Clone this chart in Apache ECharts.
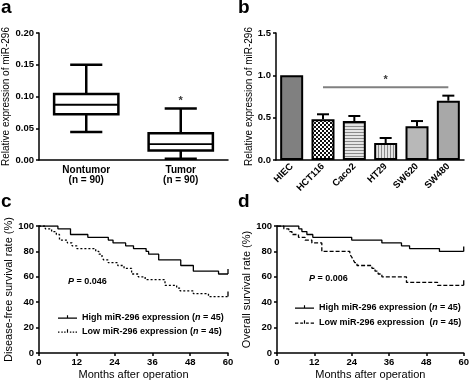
<!DOCTYPE html>
<html>
<head>
<meta charset="utf-8">
<script src="https://cdn.jsdelivr.net/npm/echarts@6/dist/echarts.min.js"></script>
<style>
  html, body { margin: 0; padding: 0; background: #fff; }
  #main { width: 472px; height: 384px; }
</style>
</head>
<body>
<div id="main"></div>
<script>
// panel a: box plot (min, q1, median, q3, max)
var boxCats = ['Nontumor\n(n = 90)', 'Tumor\n(n = 90)'];
var boxStats = [
  [0.044, 0.072, 0.087, 0.104, 0.150],
  [0.002, 0.015, 0.025, 0.042, 0.081]
];

// panel b: cell lines
var cellLines = ['HIEC', 'HCT116', 'Caco2', 'HT29', 'SW620', 'SW480'];
var cellMean = [1.0, 0.48, 0.46, 0.20, 0.40, 0.70];
var cellErr = [0, 0.06, 0.06, 0.06, 0.06, 0.06];

// panel c: disease-free survival (months, %)
var dfsHigh = [[0, 100], [6, 97.8], [10, 93.3], [15.5, 91.1], [22, 88.9], [23.5, 86.7], [27.5, 84.4], [30, 82.2],
  [34, 80], [34.8, 77.8], [38, 73.3], [45, 68.9], [49, 64.4], [57, 62.2], [60, 62.2]];
var dfsLow = [[0, 100], [2, 97.8], [4, 95.6], [5.5, 93.3], [6.5, 88.9], [9, 86.7], [10.5, 84.4], [12, 82.2],
  [18, 80], [19, 77.8], [20, 75.6], [20.5, 73.3], [22, 71.1], [25, 68.9], [27, 66.7], [29.4, 62.2], [31.5, 60],
  [33.7, 57.8], [40, 53.3], [43.7, 51.1], [44.8, 48.9], [49, 46.7], [53.8, 44.4], [60, 44.4]];

// panel d: overall survival
var osHigh = [[0, 100], [7, 97.8], [8, 95.6], [9.6, 93.3], [11.5, 91.1], [24, 88.9], [33.7, 86.7], [40, 84.4],
  [42.6, 82.2], [52.2, 80], [60, 80]];
var osLow = [[0, 100], [2.2, 97.8], [3.8, 95.6], [4.8, 93.3], [6.9, 91.1], [9, 88.9], [11.2, 86.7], [14.4, 80],
  [23.4, 77.8], [24, 75.6], [24.5, 73.3], [25, 71.1], [25.7, 68.9], [30.5, 66.7], [31.5, 64.4], [32.5, 62.2],
  [33.7, 60], [41.6, 55.6], [51.6, 53.3], [60, 53.3]];

var FONT = '"Liberation Sans", Arial, sans-serif';

// small canvas fills for the bars
function pattern(w, h, draw) {
  var c = document.createElement('canvas');
  c.width = w; c.height = h;
  draw(c.getContext('2d'));
  return { image: c, repeat: 'repeat' };
}
var fills = [
  '#808080',
  pattern(4, 4, function (g) { g.fillStyle = '#fff'; g.fillRect(0, 0, 4, 4); g.fillStyle = '#111'; g.fillRect(0, 0, 2, 2); g.fillRect(2, 2, 2, 2); }),
  pattern(1, 3, function (g) { g.fillStyle = '#e4e4e4'; g.fillRect(0, 0, 1, 3); g.fillStyle = '#8a8a8a'; g.fillRect(0, 0, 1, 1); }),
  pattern(3, 1, function (g) { g.fillStyle = '#e4e4e4'; g.fillRect(0, 0, 3, 1); g.fillStyle = '#8a8a8a'; g.fillRect(0, 0, 1, 1); }),
  '#b8b8b8',
  '#a8a8a8'
];

var axisLine = { lineStyle: { color: '#000', width: 1.5 } };
var axisTick = { length: 3, lineStyle: { color: '#000', width: 1.5 } };
var tickFont = { color: '#000', fontFamily: FONT, fontWeight: 'bold', fontSize: 9.5 };
var nameFont = { color: '#000', fontFamily: FONT, fontSize: 10 };

function valueY(grid, max, interval, digits, name, gap, nameSize) {
  return {
    type: 'value', gridIndex: grid, min: 0, max: max, interval: interval,
    name: name, nameLocation: 'middle', nameGap: gap,
    nameTextStyle: Object.assign({}, nameFont, { fontSize: nameSize }),
    axisLine: Object.assign({ show: true }, axisLine), axisTick: Object.assign({ show: true }, axisTick),
    axisLabel: Object.assign({ margin: 5, formatter: function (v) { return v.toFixed(digits); } }, tickFont),
    splitLine: { show: false }
  };
}
function monthsX(grid) {
  return {
    type: 'value', gridIndex: grid, min: 0, max: 60, interval: 12,
    name: 'Months after operation', nameLocation: 'middle', nameGap: 16,
    nameTextStyle: Object.assign({}, nameFont, { fontSize: 11 }),
    axisLine: Object.assign({ show: true }, axisLine), axisTick: Object.assign({ show: true }, axisTick),
    axisLabel: Object.assign({ margin: 4 }, tickFont),
    splitLine: { show: false }
  };
}

function line(x1, y1, x2, y2, w) {
  return { type: 'line', shape: { x1: x1, y1: y1, x2: x2, y2: y2 }, style: { stroke: '#000', lineWidth: w || 2.5 } };
}

function renderBox(params, api) {
  var i = api.value(0);
  var lo = api.coord([i, api.value(1)]);
  var q1 = api.coord([i, api.value(2)]);
  var md = api.coord([i, api.value(3)]);
  var q3 = api.coord([i, api.value(4)]);
  var hi = api.coord([i, api.value(5)]);
  var bw = api.size([1, 0])[0] * 0.68;
  var cw = bw / 2;
  var cx = lo[0];
  return {
    type: 'group', children: [
      line(cx, q3[1], cx, hi[1]),
      line(cx, q1[1], cx, lo[1]),
      line(cx - cw / 2, hi[1], cx + cw / 2, hi[1]),
      line(cx - cw / 2, lo[1], cx + cw / 2, lo[1]),
      { type: 'rect', shape: { x: cx - bw / 2, y: q3[1], width: bw, height: q1[1] - q3[1] }, style: { fill: '#fff', stroke: '#000', lineWidth: 2.5 } },
      line(cx - bw / 2, md[1], cx + bw / 2, md[1], 1.8)
    ]
  };
}

function renderErr(params, api) {
  var i = api.value(0);
  var top = api.coord([i, api.value(1) + api.value(2)]);
  var base = api.coord([i, api.value(1)]);
  return {
    type: 'group', children: [
      line(top[0], base[1], top[0], top[1], 2),
      line(top[0] - 6, top[1], top[0] + 6, top[1], 2)
    ]
  };
}

var chart = echarts.init(document.getElementById('main'));

var legendText = {
  cHigh: '{b|High miR-296 expression (}{i|n}{b| = 45)}',
  cLow: '{b|Low miR-296 expression (}{i|n}{b| = 45)}',
  dHigh: '{b|High miR-296 expression (}{i|n}{b| = 45)}',
  dLow: '{b|Low miR-296 expression  (}{i|n}{b| = 45)}'
};
var legendRich = {
  b: { fontFamily: FONT, fontWeight: 'bold', fontSize: 9, color: '#000' },
  i: { fontFamily: FONT, fontWeight: 'bold', fontStyle: 'italic', fontSize: 9, color: '#000' }
};
var frame = 'M0,0h0.05v0.05h-0.05zM0,7.95h0.05v0.05h-0.05z';
var iconSolid = 'path://' + frame + 'M0,4h20v1.2h-20zM9.4,1.5h1.2v3h-1.2z';
var iconDot = 'path://' + frame + 'M0,4h1.5v1.2h-1.5zM3.5,4h1.5v1.2h-1.5zM6.5,4h1.5v1.2h-1.5zM9.4,1.5h1.2v3.7h-1.2zM12.5,4h1.5v1.2h-1.5zM15.5,4h1.5v1.2h-1.5zM18.5,4h1.5v1.2h-1.5z';
var iconDash = 'path://' + frame + 'M0,4h3.5v1.2h-3.5zM5.5,4h3v1.2h-3zM9.4,1.5h1.2v3.7h-1.2zM11.5,4h3v1.2h-3zM16.5,4h3.5v1.2h-3.5z';

function kmSeries(name, data, xi, dash) {
  var pts = data.map(function (p, k) {
    if (k === data.length - 1) {
      return { value: p, symbol: 'rect', symbolSize: [1.3, 5], symbolOffset: [0, -2.5] };
    }
    return p;
  });
  return {
    name: name, type: 'line', xAxisIndex: xi, yAxisIndex: xi, data: pts, step: 'end',
    symbol: 'none', showSymbol: true, silent: true, animation: false,
    itemStyle: { color: '#000' },
    lineStyle: { color: '#000', width: 1.3, type: dash || 'solid' }
  };
}

var option = {
  animation: false,
  textStyle: { fontFamily: FONT },
  grid: [
    { left: 39, top: 33, width: 189, height: 127 },
    { left: 276, top: 33, width: 188, height: 127 },
    { left: 39, top: 226, width: 189, height: 127 },
    { left: 277, top: 226, width: 189, height: 127 }
  ],
  xAxis: [
    {
      type: 'category', gridIndex: 0, data: boxCats,
      axisLine: axisLine, axisTick: Object.assign({ alignWithLabel: true }, axisTick),
      axisLabel: Object.assign({ margin: 5, lineHeight: 10 }, tickFont, { fontSize: 10 })
    },
    {
      type: 'category', gridIndex: 1, data: cellLines,
      axisLine: axisLine, axisTick: Object.assign({ alignWithLabel: true }, axisTick),
      axisLabel: Object.assign({ margin: 5, rotate: 45, interval: 0 }, tickFont)
    },
    monthsX(2),
    monthsX(3)
  ],
  yAxis: [
    valueY(0, 0.2, 0.05, 2, 'Relative expression of miR-296', 22, 10),
    valueY(1, 1.5, 0.5, 1, 'Relative expression of miR-296', 22, 10),
    valueY(2, 100, 20, 0, 'Disease-free survival rate (%)', 23, 11),
    valueY(3, 100, 20, 0, 'Overall survival rate (%)', 25, 11)
  ],
  legend: [
    {
      orient: 'vertical', left: 53, top: 308,
      itemWidth: 19, itemHeight: 8, itemGap: 5, selectedMode: false,
      formatter: function (n) { return legendText[n]; },
      textStyle: { rich: legendRich },
      data: [{ name: 'cHigh', icon: iconSolid }, { name: 'cLow', icon: iconDot }]
    },
    {
      orient: 'vertical', left: 290, top: 298,
      itemWidth: 19, itemHeight: 8, itemGap: 6, selectedMode: false,
      formatter: function (n) { return legendText[n]; },
      textStyle: { rich: legendRich },
      data: [{ name: 'dHigh', icon: iconSolid }, { name: 'dLow', icon: iconDash }]
    }
  ],
  series: [
    {
      type: 'custom', xAxisIndex: 0, yAxisIndex: 0, renderItem: renderBox, silent: true,
      encode: { x: 0, y: [1, 2, 3, 4, 5] },
      data: boxStats.map(function (s, i) { return [i].concat(s); })
    },
    {
      type: 'scatter', xAxisIndex: 0, yAxisIndex: 0, symbolSize: 1, silent: true,
      itemStyle: { color: 'rgba(0,0,0,0)' },
      label: { show: true, position: 'inside', formatter: '*', color: '#000', fontFamily: FONT, fontWeight: 'bold', fontSize: 11 },
      data: [[1, 0.093]]
    },
    {
      type: 'bar', xAxisIndex: 1, yAxisIndex: 1, barWidth: 23, silent: true,
      data: cellMean.map(function (v, i) {
        return { value: v, itemStyle: { color: fills[i], borderColor: '#000', borderWidth: 2 } };
      })
    },
    {
      type: 'custom', xAxisIndex: 1, yAxisIndex: 1, renderItem: renderErr, silent: true,
      encode: { x: 0, y: 1 },
      data: cellMean.map(function (v, i) { return [i, v, cellErr[i]]; }).filter(function (d) { return d[2] > 0; })
    },
    {
      type: 'line', xAxisIndex: 1, yAxisIndex: 1, symbol: 'none', silent: true,
      lineStyle: { color: '#808080', width: 2 },
      data: [[1, 0.86], [5, 0.86]]
    },
    {
      type: 'scatter', xAxisIndex: 1, yAxisIndex: 1, symbolSize: 1, silent: true,
      itemStyle: { color: 'rgba(0,0,0,0)' },
      label: { show: true, position: 'inside', formatter: '*', color: '#000', fontFamily: FONT, fontWeight: 'bold', fontSize: 11 },
      data: [[3, 0.95]]
    },
    kmSeries('cHigh', dfsHigh, 2),
    kmSeries('cLow', dfsLow, 2, [2, 2]),
    kmSeries('dHigh', osHigh, 3),
    kmSeries('dLow', osLow, 3, [4, 2])
  ],
  graphic: [
    { type: 'text', left: 1, top: -2, style: { text: 'a', font: 'bold 19px ' + FONT, fill: '#000' } },
    { type: 'text', left: 238, top: -2, style: { text: 'b', font: 'bold 19px ' + FONT, fill: '#000' } },
    { type: 'text', left: 1, top: 192, style: { text: 'c', font: 'bold 19px ' + FONT, fill: '#000' } },
    { type: 'text', left: 238, top: 192, style: { text: 'd', font: 'bold 19px ' + FONT, fill: '#000' } },
    {
      type: 'text', left: 68, top: 277,
      style: { text: '{i|P}{b| = 0.046}', fill: '#000', rich: legendRich }
    },
    {
      type: 'text', left: 309, top: 274,
      style: { text: '{i|P}{b| = 0.006}', fill: '#000', rich: legendRich }
    }
  ]
};

chart.setOption(option);
</script>
</body>
</html>
